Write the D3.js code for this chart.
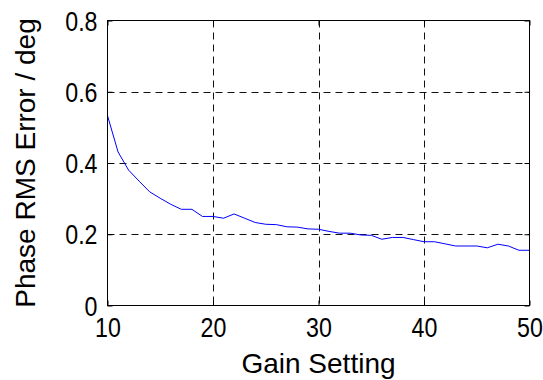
<!DOCTYPE html>
<html>
<head>
<meta charset="utf-8">
<script src="https://cdn.jsdelivr.net/npm/d3@7"></script>
<style>
  html, body { margin: 0; padding: 0; background: #fff; }
  svg { display: block; font-family: "Liberation Sans", Arial, sans-serif; }
</style>
</head>
<body>
<svg id="chart" width="543" height="380"></svg>
<script>
const gainSetting = [10,11,12,13,14,15,16,17,18,19,20,21,22,23,24,25,26,27,28,29,30,
                     31,32,33,34,35,36,37,38,39,40,41,42,43,44,45,46,47,48,49,50];
const rmsError = [0.533,0.431,0.380,0.349,0.319,0.301,0.284,0.270,0.270,0.250,0.250,
                  0.245,0.257,0.245,0.233,0.228,0.227,0.221,0.220,0.215,0.214,
                  0.208,0.203,0.203,0.198,0.197,0.186,0.191,0.191,0.185,0.179,
                  0.179,0.173,0.167,0.167,0.167,0.162,0.172,0.167,0.155,0.155];
const xTicks = [10,20,30,40,50];
const xTickLabels = ["10","20","30","40","50"];
const yTicks = [0,0.2,0.4,0.6,0.8];
const yTickLabels = ["0","0.2","0.4","0.6","0.8"];
const xLabel = "Gain Setting";
const yLabel = "Phase RMS Error / deg";

const svg = d3.select("#chart");
const L = 107.5, R = 529.5, T = 20.5, B = 305.5;
const SX = 0.86; // horizontal squeeze of tick labels

const x = d3.scaleLinear().domain([10, 50]).range([L, R]);
const y = d3.scaleLinear().domain([0, 0.8]).range([B, T]);

// grid
const grid = svg.append("g").attr("stroke", "#111").attr("stroke-width", 1)
  .attr("stroke-dasharray", "7,5");
grid.selectAll("line.gx").data(xTicks.slice(1, -1)).join("line")
  .attr("x1", d => Math.round(x(d)) + 0.5).attr("x2", d => Math.round(x(d)) + 0.5)
  .attr("y1", T).attr("y2", B);
grid.selectAll("line.gy").data(yTicks.slice(1, -1)).join("line")
  .attr("y1", d => Math.round(y(d)) + 0.5).attr("y2", d => Math.round(y(d)) + 0.5)
  .attr("x1", L).attr("x2", R);

// data line
const line = d3.line().x((d, i) => x(gainSetting[i])).y(d => y(d));
svg.append("path").datum(rmsError)
  .attr("fill", "none").attr("stroke", "#0000ff").attr("stroke-width", 1)
  .attr("d", line);

// axes
const fmtX = d => xTickLabels[xTicks.indexOf(d)];
const fmtY = d => yTickLabels[yTicks.indexOf(d)];

const ax = svg.append("g").attr("transform", `translate(0,${B})`)
  .call(d3.axisBottom(x).tickValues(xTicks).tickFormat(fmtX).tickSizeInner(-5).tickSizeOuter(0).tickPadding(12));
const ay = svg.append("g").attr("transform", `translate(${L},0)`)
  .call(d3.axisLeft(y).tickValues(yTicks).tickFormat(fmtY).tickSizeInner(-5).tickSizeOuter(0).tickPadding(10));
const axTop = svg.append("g").attr("transform", `translate(0,${T})`)
  .call(d3.axisTop(x).tickValues(xTicks).tickFormat("").tickSizeInner(-5).tickSizeOuter(0));
const ayRight = svg.append("g").attr("transform", `translate(${R},0)`)
  .call(d3.axisRight(y).tickValues(yTicks).tickFormat("").tickSizeInner(-5).tickSizeOuter(0));

[ax, ay, axTop, ayRight].forEach(g => {
  g.select(".domain").remove();
  g.selectAll(".tick line").attr("stroke", "#000");
  g.selectAll("text").attr("font-size", 27).attr("fill", "#000")
    .attr("font-family", "'Liberation Sans', Arial, sans-serif");
});
ax.selectAll(".tick text").attr("transform", `scale(${SX},1)`);
ay.selectAll(".tick text").attr("dy", "0.36em")
  .attr("x", -10 / SX).attr("transform", `scale(${SX},1)`);

// box
svg.append("rect").attr("x", L).attr("y", T).attr("width", R - L).attr("height", B - T)
  .attr("fill", "none").attr("stroke", "#000").attr("stroke-width", 1);

// labels
svg.append("text").attr("x", (L + R) / 2).attr("y", 373)
  .attr("text-anchor", "middle").attr("font-size", 28).attr("fill", "#000")
  .text(xLabel);
svg.append("text").attr("transform", `translate(35,${(T + B) / 2}) rotate(-90)`)
  .attr("text-anchor", "middle").attr("font-size", 28).attr("fill", "#000")
  .text(yLabel);
</script>
</body>
</html>
